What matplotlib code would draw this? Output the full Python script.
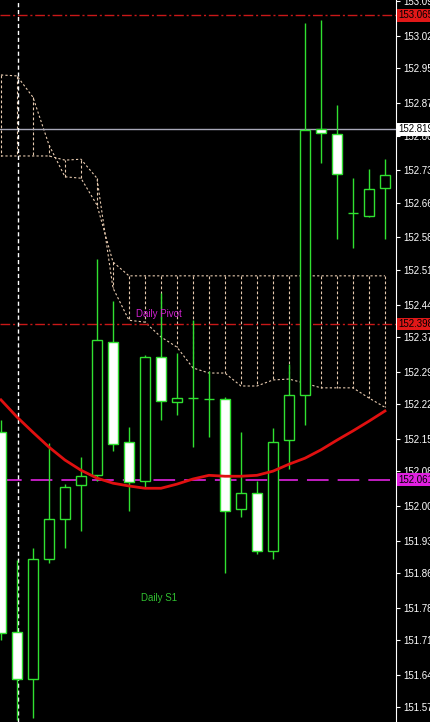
import numpy as np
import matplotlib.pyplot as plt
import matplotlib.transforms as mtransforms

# candles (bar index 0..24)
opens = [152.164, 151.732, 151.631, 151.890, 151.976, 152.050, 152.071, 152.359, 152.143, 152.059,
         152.327, 152.229, 152.238, 152.236, 152.236, 151.998, 152.033, 151.907, 152.147, 152.244,
         152.819, 152.808, 152.638, 152.631, 152.692]
highs = [152.190, 151.888, 151.914, 152.141, 152.052, 152.110, 152.538, 152.448, 152.175, 152.331,
         152.465, 152.335, 152.406, 152.296, 152.240, 152.164, 152.059, 152.173, 152.311, 153.048,
         153.055, 152.871, 152.713, 152.733, 152.754]
lows = [151.715, 151.542, 151.546, 151.881, 151.914, 151.950, 152.059, 152.123, 151.994, 152.043,
        152.190, 152.201, 152.132, 152.154, 151.860, 151.981, 151.901, 151.890, 152.085, 152.180,
        152.746, 152.582, 152.562, 152.629, 152.582]
closes = [151.730, 151.631, 151.890, 151.976, 152.046, 152.069, 152.363, 152.138, 152.056, 152.327,
          152.231, 152.238, 152.238, 152.236, 151.994, 152.033, 151.907, 152.143, 152.244, 152.817,
          152.811, 152.722, 152.638, 152.690, 152.720]

# red moving average
ma = [152.234, 152.197, 152.164, 152.132, 152.104, 152.082, 152.065, 152.054, 152.048, 152.043,
      152.043, 152.052, 152.063, 152.071, 152.069, 152.069, 152.071, 152.080, 152.095, 152.108,
      152.126, 152.147, 152.167, 152.188, 152.210]

# ichimoku cloud spans
span_a = [152.936, 152.934, 152.888, 152.785, 152.716, 152.713, 152.655, 152.532, 152.502, 152.502,
          152.502, 152.502, 152.502, 152.502, 152.502, 152.502, 152.502, 152.502, 152.502, 152.502,
          152.502, 152.502, 152.502, 152.502, 152.502]
span_b = [152.761, 152.761, 152.761, 152.761, 152.752, 152.754, 152.713, 152.476, 152.406, 152.402,
          152.370, 152.348, 152.303, 152.292, 152.292, 152.264, 152.264, 152.277, 152.279, 152.270,
          152.260, 152.260, 152.260, 152.238, 152.218]

# horizontal levels
level_r1 = 153.065
level_pivot = 152.398
level_s1 = 152.061
level_grey = 152.819

yticks = [153.095, 153.020, 152.950, 152.875, 152.805, 152.730, 152.660, 152.585, 152.515, 152.440,
          152.370, 152.295, 152.225, 152.150, 152.080, 152.005, 151.930, 151.860, 151.785, 151.715,
          151.640, 151.570]

green = '#30e030'
cloud = '#e8cbb0'

plt.rcParams['font.family'] = ['Liberation Sans', 'DejaVu Sans']

fig = plt.figure(figsize=(4.31, 7.22), dpi=100, facecolor='black')
ax = fig.add_axes([0, 0, 396 / 431, 1], facecolor='black')

x = np.arange(len(opens))

# cloud: hatch + edges
ax.vlines(x, span_a, span_b, colors=cloud, linestyles=(0, (2.5, 2)), linewidth=0.8, zorder=1)
ax.plot(x, span_a, color=cloud, ls=(0, (2, 2)), lw=0.8, zorder=1)
ax.plot(x, span_b, color=cloud, ls=(0, (2, 2)), lw=0.8, zorder=1)

# levels
ax.axhline(level_r1, color='#c81818', ls=(0, (7, 2, 1.5, 2)), lw=1)
ax.axhline(level_pivot, color='#c81818', ls=(0, (7, 2, 1.5, 2)), lw=1)
ax.axhline(level_grey, color='#a8a8b8', lw=1)
ax.axhline(level_s1, color='#d020d0', ls=(0, (12, 5)), lw=1.3)
ax.axvline(1.05, color='white', ls=(0, (3, 2)), lw=1)

# candles
ax.vlines(x, lows, highs, colors=green, linewidth=1, zorder=3)
o = np.array(opens)
c = np.array(closes)
bear = c < o
ax.bar(x, c - o, bottom=o, width=0.62,
       color=np.where(bear, 'white', 'black'), edgecolor=green, linewidth=1, zorder=4)

ax.plot(x, ma, color='#e01010', lw=2, zorder=5)

ax.text(8.45, 152.42, 'Daily Pivot', color='#d020d0', fontsize=7, ha='left', va='center')
ax.text(8.75, 151.805, 'Daily S1', color='#30c030', fontsize=7, ha='left', va='center')

ax.set_xlim(-0.06, 24.69)
ax.set_ylim(151.538, 153.098)
ax.set_xticks([])
for s in ['top', 'left', 'bottom']:
    ax.spines[s].set_visible(False)
ax.spines['right'].set_color('white')
ax.yaxis.tick_right()
ax.set_yticks(yticks)
ax.set_yticklabels([f'{v:.3f}' for v in yticks])
ax.tick_params(axis='y', colors='white', labelsize=7, length=3, pad=2)

# price labels on the axis
trans = mtransforms.blended_transform_factory(ax.transAxes, ax.transData)
for val, bg in [(level_r1, '#e01818'), (level_pivot, '#e01818'),
                (level_s1, '#e020e0'), (level_grey, 'white')]:
    ax.text(1.005, val, f'{val:.3f}', transform=trans, color='black', fontsize=7,
            ha='left', va='center', clip_on=False, zorder=10,
            bbox=dict(boxstyle='square,pad=0.15', fc=bg, ec='none'))

fig.savefig('out.png', dpi=100, facecolor='black')
